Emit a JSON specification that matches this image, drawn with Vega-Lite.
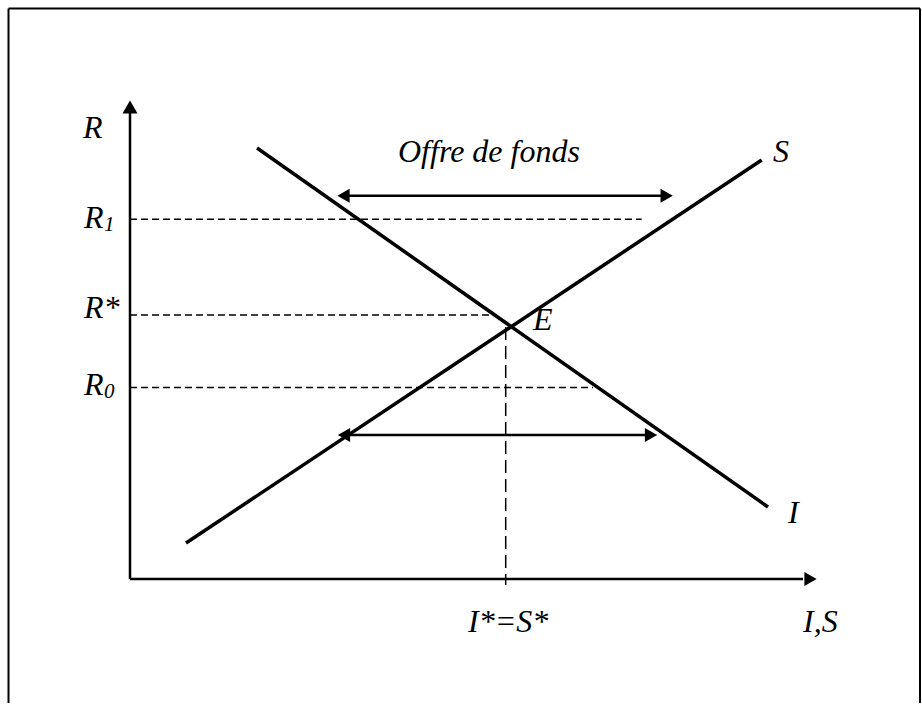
{
  "$schema": "https://vega.github.io/schema/vega-lite/v6.json",
  "autosize": {"type": "fit", "contains": "padding"},
  "width": 922,
  "height": 705,
  "padding": 0,
  "background": "white",
  "config": {"view": {"stroke": null}},
  "datasets": {
    "seg": [
      {"kind": "frame", "x": -12.15, "y": 57.05, "x2": 79.0, "y2": 57.05},
      {"kind": "frame", "x": -12.15, "y": 57.05, "x2": -12.15, "y2": -12.4},
      {"kind": "frame", "x": 79.0, "y": 57.05, "x2": 79.0, "y2": -12.4},
      {"kind": "axis", "x": 0, "y": 0, "x2": 0, "y2": 46.6},
      {"kind": "axis", "x": 0, "y": 0, "x2": 67.3, "y2": 0},
      {"kind": "curve", "x": 5.6, "y": 3.6, "x2": 63.17, "y2": 41.9},
      {"kind": "curve", "x": 12.7, "y": 43.1, "x2": 63.8, "y2": 7.2},
      {"kind": "dashH", "x": 0, "y": 35.97, "x2": 51.17, "y2": 35.97},
      {"kind": "dashH", "x": 0, "y": 26.4, "x2": 36.6, "y2": 26.4},
      {"kind": "dashH", "x": 0, "y": 19.15, "x2": 46.3, "y2": 19.15},
      {"kind": "dashV", "x": 37.57, "y": 25.2, "x2": 37.57, "y2": -0.6},
      {"kind": "arrow", "x": 21.6, "y": 38.33, "x2": 53.4, "y2": 38.33},
      {"kind": "arrow", "x": 21.7, "y": 14.4, "x2": 51.8, "y2": 14.4}
    ],
    "heads": [
      {"dir": "up", "x": 0, "y": 47.2},
      {"dir": "right", "x": 68.05, "y": 0},
      {"dir": "left", "x": 21.35, "y": 38.33},
      {"dir": "right", "x": 53.67, "y": 38.33},
      {"dir": "left", "x": 21.4, "y": 14.4},
      {"dir": "right", "x": 52.1, "y": 14.4}
    ],
    "labels": [
      {"role": "main", "label": "R", "x": -4.7, "y": 44.1},
      {"role": "main", "label": "R", "x": -4.6, "y": 35.1},
      {"role": "sub", "label": "1", "x": -2.6, "y": 34.8},
      {"role": "main", "label": "R*", "x": -4.6, "y": 26.1},
      {"role": "main", "label": "R", "x": -4.6, "y": 18.4},
      {"role": "sub", "label": "0", "x": -2.6, "y": 18.1},
      {"role": "main", "label": "S", "x": 64.3, "y": 41.7},
      {"role": "main", "label": "I", "x": 65.8, "y": 5.6},
      {"role": "main", "label": "E", "x": 40.3, "y": 24.9},
      {"role": "main", "label": "I*=S*", "x": 33.8, "y": -5.3},
      {"role": "main", "label": "I,S", "x": 67.3, "y": -5.3},
      {"role": "title", "label": "Offre de fonds", "x": 26.8, "y": 41.7}
    ]
  },
  "layer": [
    {
      "data": {"name": "seg"},
      "transform": [{"filter": "datum.kind == 'frame'"}],
      "mark": {"type": "rule", "color": "black", "strokeWidth": 2},
      "encoding": {
        "x": {"field": "x", "type": "quantitative", "scale": {"domain": [-13, 79.2], "nice": false, "zero": false}, "axis": null},
        "y": {"field": "y", "type": "quantitative", "scale": {"domain": [-12.6, 57.9], "nice": false, "zero": false}, "axis": null},
        "x2": {"field": "x2"},
        "y2": {"field": "y2"}
      }
    },
    {
      "data": {"name": "seg"},
      "transform": [{"filter": "datum.kind == 'axis'"}],
      "mark": {"type": "rule", "color": "black", "strokeWidth": 2.5},
      "encoding": {
        "x": {"field": "x", "type": "quantitative", "axis": null},
        "y": {"field": "y", "type": "quantitative", "axis": null},
        "x2": {"field": "x2"},
        "y2": {"field": "y2"}
      }
    },
    {
      "data": {"name": "seg"},
      "transform": [{"filter": "datum.kind == 'curve'"}],
      "mark": {"type": "rule", "color": "black", "strokeWidth": 3.5},
      "encoding": {
        "x": {"field": "x", "type": "quantitative", "axis": null},
        "y": {"field": "y", "type": "quantitative", "axis": null},
        "x2": {"field": "x2"},
        "y2": {"field": "y2"}
      }
    },
    {
      "data": {"name": "seg"},
      "transform": [{"filter": "datum.kind == 'dashH'"}],
      "mark": {"type": "rule", "color": "black", "strokeWidth": 1.5, "strokeDash": [7, 4]},
      "encoding": {
        "x": {"field": "x", "type": "quantitative", "axis": null},
        "y": {"field": "y", "type": "quantitative", "axis": null},
        "x2": {"field": "x2"},
        "y2": {"field": "y2"}
      }
    },
    {
      "data": {"name": "seg"},
      "transform": [{"filter": "datum.kind == 'dashV'"}],
      "mark": {"type": "rule", "color": "black", "strokeWidth": 1.5, "strokeDash": [13, 6]},
      "encoding": {
        "x": {"field": "x", "type": "quantitative", "axis": null},
        "y": {"field": "y", "type": "quantitative", "axis": null},
        "x2": {"field": "x2"},
        "y2": {"field": "y2"}
      }
    },
    {
      "data": {"name": "seg"},
      "transform": [{"filter": "datum.kind == 'arrow'"}],
      "mark": {"type": "rule", "color": "black", "strokeWidth": 2.5},
      "encoding": {
        "x": {"field": "x", "type": "quantitative", "axis": null},
        "y": {"field": "y", "type": "quantitative", "axis": null},
        "x2": {"field": "x2"},
        "y2": {"field": "y2"}
      }
    },
    {
      "data": {"name": "heads"},
      "transform": [{"filter": "datum.dir == 'up'"}],
      "mark": {"type": "point", "shape": "triangle-up", "filled": true, "color": "black", "size": 225, "opacity": 1},
      "encoding": {
        "x": {"field": "x", "type": "quantitative", "axis": null},
        "y": {"field": "y", "type": "quantitative", "axis": null}
      }
    },
    {
      "data": {"name": "heads"},
      "transform": [{"filter": "datum.dir == 'right'"}],
      "mark": {"type": "point", "shape": "triangle-right", "filled": true, "color": "black", "size": 200, "opacity": 1},
      "encoding": {
        "x": {"field": "x", "type": "quantitative", "axis": null},
        "y": {"field": "y", "type": "quantitative", "axis": null}
      }
    },
    {
      "data": {"name": "heads"},
      "transform": [{"filter": "datum.dir == 'left'"}],
      "mark": {"type": "point", "shape": "triangle-left", "filled": true, "color": "black", "size": 200, "opacity": 1},
      "encoding": {
        "x": {"field": "x", "type": "quantitative", "axis": null},
        "y": {"field": "y", "type": "quantitative", "axis": null}
      }
    },
    {
      "data": {"name": "labels"},
      "transform": [{"filter": "datum.role == 'main'"}],
      "mark": {"type": "text", "font": "Liberation Serif", "fontStyle": "italic", "fontSize": 32, "align": "left", "baseline": "alphabetic", "color": "black"},
      "encoding": {
        "x": {"field": "x", "type": "quantitative", "axis": null},
        "y": {"field": "y", "type": "quantitative", "axis": null},
        "text": {"field": "label"}
      }
    },
    {
      "data": {"name": "labels"},
      "transform": [{"filter": "datum.role == 'sub'"}],
      "mark": {"type": "text", "font": "Liberation Serif", "fontStyle": "italic", "fontSize": 21, "align": "left", "baseline": "alphabetic", "color": "black"},
      "encoding": {
        "x": {"field": "x", "type": "quantitative", "axis": null},
        "y": {"field": "y", "type": "quantitative", "axis": null},
        "text": {"field": "label"}
      }
    },
    {
      "data": {"name": "labels"},
      "transform": [{"filter": "datum.role == 'title'"}],
      "mark": {"type": "text", "font": "Liberation Serif", "fontStyle": "italic", "fontSize": 32, "align": "left", "baseline": "alphabetic", "color": "black"},
      "encoding": {
        "x": {"field": "x", "type": "quantitative", "axis": null},
        "y": {"field": "y", "type": "quantitative", "axis": null},
        "text": {"field": "label"}
      }
    }
  ]
}
